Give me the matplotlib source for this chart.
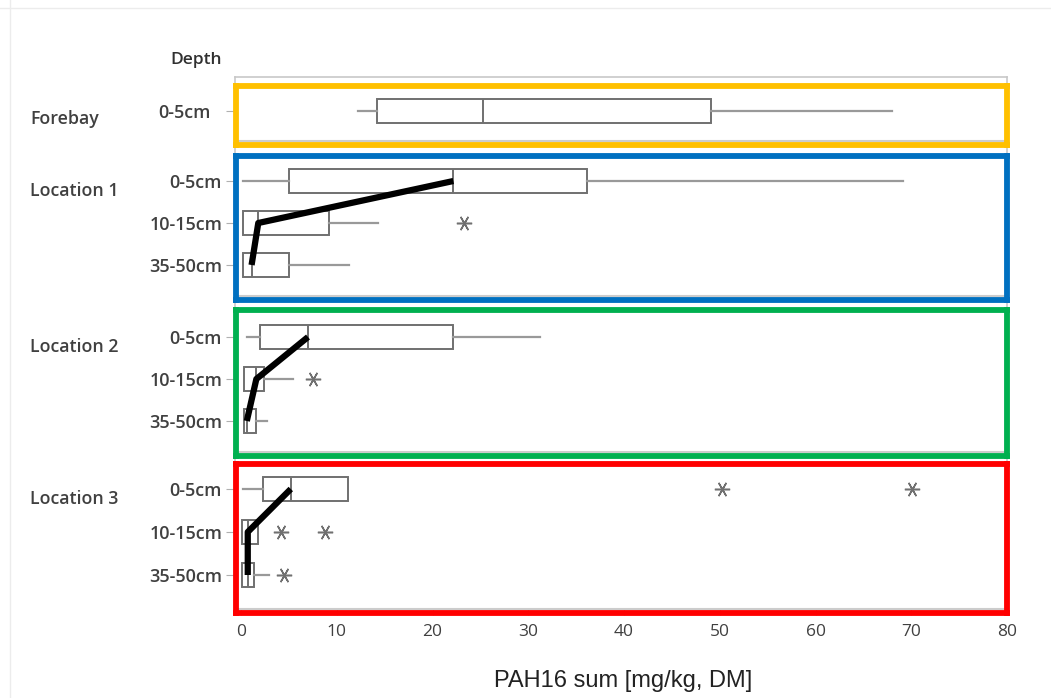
import numpy as np
import matplotlib.pyplot as plt

# five-number summaries: whisker low, Q1, median, Q3, whisker high
groups = ["Forebay", "Location 1", "Location 2", "Location 3"]
depths = [["0-5cm"],
          ["0-5cm", "10-15cm", "35-50cm"],
          ["0-5cm", "10-15cm", "35-50cm"],
          ["0-5cm", "10-15cm", "35-50cm"]]

whislo = [[12.1], [0.1, 0.1, 0.1], [0.5, 0.2, 0.2], [0.1, 0.0, 0.0]]
q1 = [[14.1], [4.9, 0.1, 0.1], [1.9, 0.2, 0.2], [2.2, 0.0, 0.0]]
med = [[25.2], [22.1, 1.7, 1.0], [6.9, 1.5, 0.5], [5.1, 0.6, 0.6]]
q3 = [[49.0], [36.1, 9.1, 4.9], [22.1, 2.3, 1.5], [11.1, 1.7, 1.3]]
whishi = [[68.0], [69.1, 14.2, 11.2], [31.2, 5.3, 2.6], [11.1, 1.7, 2.8]]
outliers = [[[]], [[], [23.2], []], [[], [7.4], []], [[50.2, 70.1], [4.1, 8.7], [4.4]]]

frame_colors = ["#FFC000", "#0070C0", "#00B050", "#FF0000"]
xticks = [0, 10, 20, 30, 40, 50, 60, 70, 80]

W, H = 1051, 698
fig = plt.figure(figsize=(W / 100, H / 100), dpi=100)


def rect(left, top, right, bottom):
    return [left / W, 1 - bottom / H, (right - left) / W, (bottom - top) / H]


xlim = (-0.63, 80)

# background panel carrying the x axis
bg = fig.add_axes(rect(235, 77, 1007, 609))
bg.set_xlim(*xlim)
bg.set_ylim(0, 1)
bg.set_yticks([])
bg.set_xticks(xticks)
for s in bg.spines.values():
    s.set_color("#c8c8c8")
    s.set_linewidth(1.2)
bg.tick_params(axis="x", colors="#b0b0b0", length=4, labelcolor="#404040",
               labelsize=12.5, pad=7)
for lab in bg.get_xticklabels():
    lab.set_family("Open Sans")
fig.text(623 / W, 1 - 681 / H, "PAH16 sum [mg/kg, DM]", fontsize=17, color="#222222",
         family="Liberation Sans", ha="center", va="center")

# pixel boxes for the four coloured panels (spine centre lines) and row spacing
panels = [(86, 145, 111, 42), (156, 300, 181, 42), (310, 456, 337, 42), (464, 613, 489, 43)]

for g in range(4):
    top, bottom, first_row, step = panels[g]
    ax = fig.add_axes(rect(236, top, 1007, bottom))
    ax.patch.set_alpha(0)
    n = len(depths[g])
    stats = []
    for i in range(n):
        stats.append(dict(whislo=whislo[g][i], q1=q1[g][i], med=med[g][i],
                          q3=q3[g][i], whishi=whishi[g][i], fliers=outliers[g][i]))
    pos = np.arange(n)
    ax.bxp(stats, positions=pos, vert=False, widths=0.57, showcaps=False,
           patch_artist=True,
           boxprops=dict(facecolor="white", edgecolor="#707070", linewidth=1.4),
           medianprops=dict(color="#707070", linewidth=1.4),
           whiskerprops=dict(color="#999999", linewidth=1.6),
           flierprops=dict(marker=(6, 2, 90), markersize=11, markeredgecolor="#707070",
                           markeredgewidth=1.1, linestyle="none"))
    if n > 1:
        ax.plot(med[g], pos, color="black", linewidth=4.5, solid_capstyle="butt", zorder=5)
    y_top = -(first_row - top) / step
    y_bot = y_top + (bottom - top) / step
    ax.set_ylim(y_bot, y_top)
    ax.set_xlim(*xlim)
    ax.axhline(y_bot - 4 / step, color="#cccccc", linewidth=1.5, zorder=1)
    ax.set_xticks([])
    ax.set_yticks(pos)
    ax.set_yticklabels(depths[g])
    ax.tick_params(axis="y", colors="#b0b0b0", length=7, labelcolor="#404040",
                   labelsize=13, pad=3 if g else 11.5)
    for lab in ax.get_yticklabels():
        lab.set_family("Open Sans")
        lab.set_fontweight("semibold")
    for s in ax.spines.values():
        s.set_color(frame_colors[g])
        s.set_linewidth(4.2)
        s.set_zorder(6)
    gy = first_row + (8 if g == 0 else 10)
    fig.text(30 / W, 1 - gy / H, groups[g], fontsize=12.8, color="#404040",
             family="Open Sans", fontweight="semibold", va="center", ha="left")

fig.text(222 / W, 1 - 60 / H, "Depth", fontsize=12.5, color="#303030",
         family="Open Sans", fontweight="semibold", va="center", ha="right")

# faint page border
fig.add_artist(plt.Line2D([0, 1], [1 - 8 / H, 1 - 8 / H], color="#ececec", linewidth=1))
fig.add_artist(plt.Line2D([10 / W, 10 / W], [0, 1], color="#ececec", linewidth=1))

fig.savefig("out.png", dpi=100)
